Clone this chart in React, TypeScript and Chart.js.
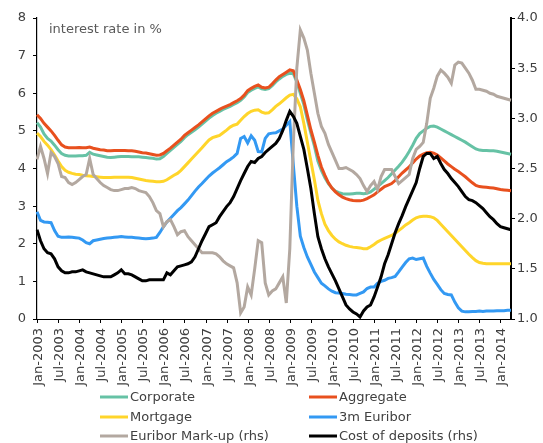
import React, { useEffect, useRef } from 'react';
import { Chart, registerables } from 'chart.js';

Chart.register(...registerables);

const MONTHS = ['Jan', 'Feb', 'Mar', 'Apr', 'May', 'Jun', 'Jul', 'Aug', 'Sep', 'Oct', 'Nov', 'Dec'];
const START_YEAR = 2003;
const N_MONTHS = 136;
const categories: string[] = Array.from({ length: N_MONTHS }, (_, i) => `${MONTHS[i % 12]}-${START_YEAR + Math.floor(i / 12)}`);
const LABEL_EVERY = 6;

const corporate = [
  5.22, 5.1, 4.92, 4.8, 4.73, 4.62, 4.5, 4.4, 4.35, 4.33,
  4.33, 4.33, 4.34, 4.34, 4.35, 4.43, 4.38, 4.36, 4.34, 4.32,
  4.3, 4.29, 4.3, 4.31, 4.32, 4.32, 4.32, 4.31, 4.31, 4.31,
  4.3, 4.29, 4.28, 4.27, 4.25, 4.26, 4.32, 4.4, 4.48, 4.56,
  4.64, 4.72, 4.82, 4.9, 4.96, 5.03, 5.1, 5.18, 5.26, 5.34,
  5.41, 5.47, 5.52, 5.57, 5.61, 5.65, 5.7, 5.75, 5.81, 5.9,
  6.02, 6.08, 6.13, 6.17, 6.12, 6.1, 6.12, 6.2, 6.3, 6.38,
  6.45, 6.5, 6.53, 6.52, 6.3, 6.0, 5.7, 5.3, 4.94, 4.6,
  4.2, 3.95, 3.75, 3.6, 3.48, 3.4, 3.36, 3.33, 3.32, 3.32,
  3.33, 3.34, 3.34, 3.33, 3.34, 3.38, 3.45, 3.52, 3.6, 3.68,
  3.76, 3.86, 3.96, 4.06, 4.17, 4.3, 4.45, 4.62, 4.8, 4.93,
  5.0, 5.07, 5.12, 5.13, 5.1, 5.05, 5.0, 4.95, 4.9, 4.85,
  4.8, 4.75, 4.7, 4.64, 4.58, 4.52, 4.49, 4.48, 4.48, 4.47,
  4.47, 4.46, 4.44, 4.42, 4.4, 4.38,
];

const aggregate = [
  5.43, 5.33, 5.2, 5.1, 5.0, 4.88, 4.75, 4.63, 4.57, 4.55,
  4.55, 4.55, 4.56, 4.55, 4.55, 4.57, 4.54, 4.52, 4.5, 4.49,
  4.47, 4.47, 4.48, 4.48, 4.48, 4.48, 4.47, 4.47, 4.46, 4.44,
  4.42, 4.41, 4.39, 4.37, 4.35, 4.36, 4.4, 4.47, 4.54, 4.62,
  4.7, 4.78, 4.88, 4.95, 5.02, 5.09, 5.16, 5.24, 5.32, 5.4,
  5.47, 5.52, 5.57, 5.62, 5.66, 5.7, 5.75, 5.8, 5.86, 5.95,
  6.07, 6.13, 6.18, 6.22, 6.16, 6.14, 6.16, 6.25, 6.35, 6.44,
  6.5, 6.56, 6.62, 6.6, 6.35, 6.1, 5.8, 5.42, 5.03, 4.7,
  4.35, 4.04, 3.82, 3.62, 3.48, 3.38, 3.3, 3.24, 3.2, 3.17,
  3.15, 3.14, 3.14, 3.16, 3.2, 3.25, 3.3, 3.38, 3.45, 3.52,
  3.56, 3.6, 3.68, 3.78, 3.88, 3.96, 4.04, 4.15, 4.25, 4.33,
  4.38, 4.42, 4.43, 4.41, 4.36, 4.28, 4.2, 4.12, 4.05, 3.98,
  3.92, 3.85, 3.78, 3.7, 3.62, 3.55, 3.52, 3.51, 3.5, 3.49,
  3.48, 3.46, 3.44, 3.43, 3.42, 3.41,
];

const mortgage = [
  4.94, 4.85, 4.72, 4.62, 4.5, 4.36, 4.2, 4.05, 3.95, 3.9,
  3.87, 3.85, 3.84, 3.82, 3.81, 3.8, 3.79, 3.78, 3.77, 3.76,
  3.76, 3.76, 3.77, 3.77, 3.77, 3.77, 3.77, 3.76, 3.74, 3.72,
  3.7, 3.68, 3.67, 3.66, 3.65, 3.65, 3.66, 3.7, 3.76, 3.82,
  3.87, 3.95, 4.05, 4.15, 4.25, 4.35, 4.45, 4.55, 4.66, 4.76,
  4.82, 4.85, 4.88, 4.95, 5.02, 5.1, 5.15, 5.18, 5.28, 5.38,
  5.46, 5.52, 5.55, 5.56, 5.5, 5.47, 5.48, 5.56, 5.65, 5.72,
  5.8, 5.88, 5.95, 5.97, 5.85, 5.64, 5.2, 4.7, 4.2, 3.7,
  3.15, 2.8, 2.52, 2.35, 2.22, 2.12, 2.05, 2.0, 1.96, 1.93,
  1.91, 1.9, 1.89, 1.87, 1.87, 1.92, 1.98, 2.05, 2.1, 2.14,
  2.18, 2.22, 2.28, 2.35, 2.42, 2.5, 2.56, 2.63, 2.69, 2.72,
  2.73, 2.73, 2.72, 2.69, 2.62, 2.52, 2.42, 2.32, 2.22, 2.12,
  2.02, 1.92, 1.82, 1.72, 1.63, 1.55, 1.5, 1.48, 1.47, 1.47,
  1.47, 1.47, 1.47, 1.47, 1.47, 1.47,
];

const euribor3m = [
  2.85, 2.62, 2.58, 2.57, 2.56, 2.35, 2.2, 2.17, 2.17, 2.18,
  2.17, 2.16, 2.15, 2.1, 2.03, 2.0, 2.08, 2.1, 2.12, 2.14,
  2.15, 2.16, 2.17, 2.18, 2.19, 2.18, 2.17, 2.17, 2.16, 2.15,
  2.14, 2.13, 2.14, 2.15, 2.17, 2.3, 2.45, 2.58, 2.68, 2.78,
  2.88, 2.96, 3.06, 3.16, 3.28, 3.4, 3.51, 3.6, 3.7, 3.8,
  3.88, 3.95, 4.02, 4.1, 4.18, 4.24, 4.31, 4.4, 4.8, 4.85,
  4.68, 4.87, 4.75, 4.45, 4.44, 4.8, 4.92, 4.94, 4.95, 5.0,
  5.05, 5.15, 5.25, 4.1, 3.0, 2.2, 1.9, 1.65, 1.45, 1.25,
  1.1, 0.95, 0.88, 0.8, 0.74, 0.7, 0.69, 0.68, 0.66, 0.65,
  0.64, 0.64, 0.68, 0.72, 0.81, 0.85, 0.85, 0.95, 1.0, 1.03,
  1.08, 1.1, 1.13, 1.25, 1.38, 1.5, 1.6, 1.62, 1.58, 1.6,
  1.62, 1.4, 1.22, 1.05, 0.92, 0.78, 0.68, 0.65, 0.64, 0.45,
  0.3, 0.21, 0.19, 0.19, 0.2, 0.2, 0.21, 0.2, 0.21, 0.21,
  0.21, 0.22, 0.22, 0.22, 0.23, 0.23,
];

const euriborMarkup = [
  2.59, 2.72, 2.6, 2.45, 2.66, 2.62, 2.55, 2.42, 2.41, 2.36,
  2.34, 2.36, 2.39, 2.42, 2.44, 2.6, 2.44, 2.4, 2.36, 2.33,
  2.31, 2.29, 2.28, 2.28, 2.29, 2.3, 2.3, 2.31, 2.3, 2.28,
  2.27, 2.26, 2.22, 2.16, 2.08, 2.05, 1.92, 1.97, 1.99, 1.92,
  1.84, 1.87, 1.88, 1.82, 1.78, 1.74, 1.7, 1.66, 1.66, 1.66,
  1.66, 1.65, 1.62, 1.58, 1.55, 1.53, 1.51, 1.36, 1.06, 1.12,
  1.32, 1.24, 1.5, 1.78, 1.76, 1.36, 1.24, 1.28, 1.3, 1.36,
  1.42, 1.16, 1.7, 2.75, 3.5, 3.88, 3.8, 3.68, 3.45, 3.25,
  3.05, 2.92, 2.85, 2.74, 2.66, 2.58, 2.5, 2.5, 2.51, 2.49,
  2.47, 2.44, 2.4, 2.33, 2.27, 2.33, 2.37, 2.29, 2.42, 2.49,
  2.49, 2.49, 2.42, 2.35, 2.38, 2.41, 2.44, 2.6, 2.69, 2.72,
  2.76, 2.95, 3.2, 3.3, 3.42, 3.48, 3.45, 3.41, 3.35, 3.53,
  3.56, 3.55, 3.5, 3.45, 3.38, 3.29, 3.29, 3.28, 3.27, 3.25,
  3.24, 3.22, 3.21, 3.2, 3.19, 3.18,
];

const costOfDeposits = [
  1.89, 1.78, 1.7, 1.66, 1.65, 1.6, 1.52, 1.48, 1.46, 1.46,
  1.47, 1.47, 1.48, 1.49, 1.47, 1.46, 1.45, 1.44, 1.43, 1.42,
  1.42, 1.42, 1.44, 1.46, 1.49, 1.45, 1.45, 1.44, 1.42, 1.4,
  1.38, 1.38, 1.39, 1.39, 1.39, 1.39, 1.39, 1.46, 1.44, 1.48,
  1.52, 1.53, 1.54, 1.55, 1.57, 1.62, 1.7, 1.78, 1.85, 1.92,
  1.94, 1.96, 2.02, 2.07, 2.12, 2.16, 2.22, 2.3, 2.38, 2.45,
  2.52, 2.57, 2.56, 2.6, 2.62, 2.66, 2.69, 2.72, 2.75, 2.8,
  2.88, 2.98, 3.07, 3.02, 2.95, 2.82, 2.69, 2.5, 2.3, 2.05,
  1.82, 1.7, 1.6, 1.52, 1.45, 1.38, 1.3, 1.22, 1.14, 1.1,
  1.07, 1.05, 1.02, 1.08, 1.12, 1.14, 1.22, 1.32, 1.42, 1.55,
  1.64, 1.75, 1.86, 1.95, 2.03, 2.12, 2.2, 2.28, 2.36, 2.5,
  2.62, 2.65, 2.65, 2.6, 2.62, 2.55, 2.49, 2.45, 2.4, 2.36,
  2.32, 2.27, 2.22, 2.19, 2.18, 2.16, 2.13, 2.1, 2.06, 2.02,
  1.99, 1.95, 1.92, 1.91, 1.9, 1.89,
];

const seriesLabels = ['Corporate', 'Aggregate', 'Mortgage', '3m Euribor', 'Euribor Mark-up (rhs)', 'Cost of deposits (rhs)'];
const seriesColors = ['#66C2A5', '#E8501E', '#FFD52A', '#3399F3', '#B3A8A0', '#000000'];
const titleText = 'interest rate in %';

const FONT = '"DejaVu Sans", sans-serif';
const TEXT_COLOR = '#404040';
const X_TICK_LEN = 4;
const X_LABEL_PAD = 5;

const overlayPlugin = {
  id: 'overlay',
  afterDraw(chart: any) {
    const ctx = chart.ctx as CanvasRenderingContext2D;
    const area = chart.chartArea;
    const xs = chart.scales.x;
    ctx.save();
    // plot title inside the area
    ctx.font = `13px ${FONT}`;
    ctx.fillStyle = '#595959';
    ctx.textBaseline = 'middle';
    ctx.textAlign = 'left';
    ctx.fillText(titleText, area.left + 12, area.top + 12);

    // half-year tick marks and vertical labels, positioned by the category scale
    const axisY = area.bottom;
    ctx.strokeStyle = '#000';
    ctx.lineWidth = 1;
    ctx.fillStyle = TEXT_COLOR;
    ctx.font = `13px ${FONT}`;
    ctx.textAlign = 'right';
    ctx.textBaseline = 'middle';
    for (let i = 0; i < categories.length; i += LABEL_EVERY) {
      const x = Math.round(xs.getPixelForValue(i)) + 0.5;
      ctx.beginPath();
      ctx.moveTo(x, axisY);
      ctx.lineTo(x, axisY + X_TICK_LEN);
      ctx.stroke();
      ctx.save();
      ctx.translate(x + 1, axisY + X_TICK_LEN + X_LABEL_PAD);
      ctx.rotate(-Math.PI / 2);
      ctx.fillText(categories[i], 0, 0);
      ctx.restore();
    }

    // legend: 2 columns, 3 rows
    const colLineX = [100, 309];
    const rowY = [397, 417, 436];
    ctx.textAlign = 'left';
    chart.data.datasets.forEach((ds: any, k: number) => {
      const row = Math.floor(k / 2);
      const col = k % 2;
      const x0 = colLineX[col];
      const y = rowY[row];
      ctx.strokeStyle = ds.borderColor;
      ctx.lineWidth = 3;
      ctx.beginPath();
      ctx.moveTo(x0, y);
      ctx.lineTo(x0 + 28, y);
      ctx.stroke();
      ctx.fillStyle = TEXT_COLOR;
      ctx.fillText(ds.label, x0 + 30, y + 1);
    });
    ctx.restore();
  },
};

export default function App() {
  const ref = useRef<HTMLCanvasElement>(null);
  useEffect(() => {
    const datasetsRaw = [corporate, aggregate, mortgage, euribor3m, euriborMarkup, costOfDeposits];
    const axes = ['y', 'y', 'y', 'y', 'y1', 'y1'];
    const chart = new Chart(ref.current as HTMLCanvasElement, {
      type: 'line',
      data: {
        labels: categories,
        datasets: datasetsRaw.map((d, k) => ({
          label: seriesLabels[k],
          data: d,
          yAxisID: axes[k],
          borderColor: seriesColors[k],
          backgroundColor: seriesColors[k],
          borderWidth: 3,
          pointRadius: 0,
          tension: 0,
          fill: false,
          order: 6 - k,
        })),
      },
      options: {
        animation: false,
        responsive: true,
        maintainAspectRatio: false,
        layout: { padding: { top: 18, bottom: 57, left: 0, right: 0 } },
        plugins: { legend: { display: false }, tooltip: { enabled: false } },
        scales: {
          x: {
            type: 'category',
            offset: false,
            grid: { display: false },
            border: { display: true, color: '#000', width: 1 },
            ticks: { display: false },
            afterFit: (s: any) => { s.height = 67; },
          },
          y: {
            position: 'left',
            min: 0,
            max: 8,
            grid: { display: true, drawOnChartArea: false, drawTicks: true, tickLength: 4, color: '#000' },
            border: { display: true, color: '#000', width: 1.2 },
            ticks: { stepSize: 1, padding: 7, color: TEXT_COLOR, font: { family: FONT, size: 13 } },
            afterFit: (s: any) => { s.width = 37; },
          },
          y1: {
            position: 'right',
            min: 1,
            max: 4,
            grid: { display: true, drawOnChartArea: false, drawTicks: true, tickLength: 4, color: '#000' },
            border: { display: true, color: '#000', width: 2 },
            ticks: {
              stepSize: 0.5,
              padding: 2,
              color: TEXT_COLOR,
              font: { family: FONT, size: 13 },
              callback: (v: any) => Number(v).toFixed(1),
            },
            afterFit: (s: any) => { s.width = 32; },
          },
        },
      } as any,
      plugins: [overlayPlugin],
    });
    return () => chart.destroy();
  }, []);
  return (
    <div style={{ position: 'fixed', left: 0, top: 0, width: 543, height: 443, background: '#fff' }}>
      <canvas ref={ref} />
    </div>
  );
}
